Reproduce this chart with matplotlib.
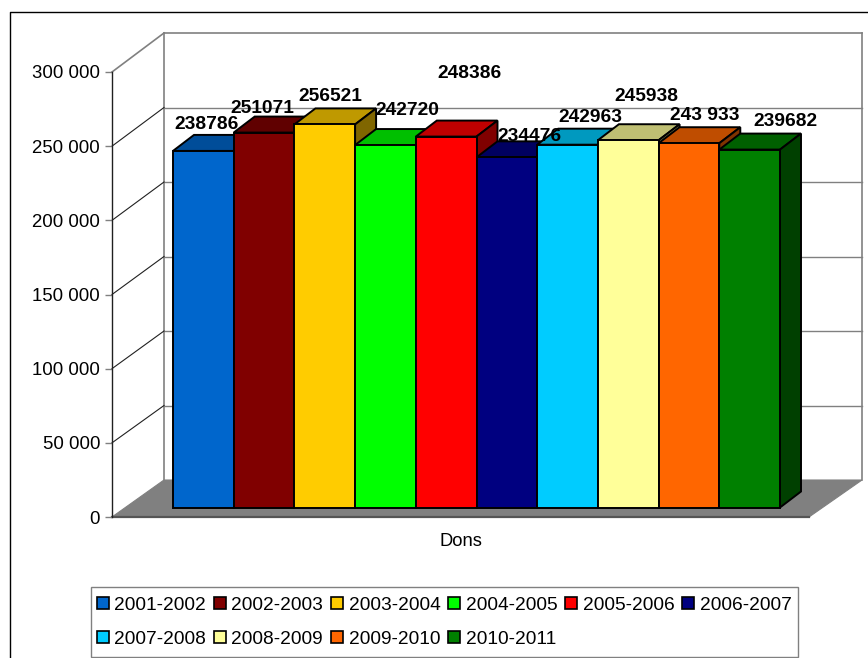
#!/usr/bin/env python3
"""Dons per season, drawn as an Excel-style 3D column chart."""

import matplotlib
matplotlib.use('Agg')
import matplotlib.pyplot as plt
from matplotlib.colors import to_rgb
from matplotlib.patches import Patch, Polygon, Rectangle

plt.rcParams['font.family'] = ['Liberation Sans', 'DejaVu Sans']

# data
seasons = ['2001-2002', '2002-2003', '2003-2004', '2004-2005', '2005-2006',
           '2006-2007', '2007-2008', '2008-2009', '2009-2010', '2010-2011']
dons = [238786, 251071, 256521, 242720, 248386,
        234476, 242963, 245938, 243933, 239682]
value_labels = ['238786', '251071', '256521', '242720', '248386',
                '234476', '242963', '245938', '243 933', '239682']
y_ticks = [0, 50000, 100000, 150000, 200000, 250000, 300000]
y_tick_labels = ['0', '50 000', '100 000', '150 000', '200 000', '250 000', '300 000']

# style
colors = ['#0066CC', '#800000', '#FFCC00', '#00FF00', '#FF0000',
          '#000080', '#00CCFF', '#FFFF99', '#FF6600', '#008000']
label_offsets = [(3, 26), (-2, 24), (6, 28), (22, 35), (23, 63),
                 (23, 21), (23, 27), (18, 44), (16, 28), (36, 28)]

W, H = 868, 658
FS = 13.4
FS_BIG = 13.8
GREY = '#808080'

# pixel layout of the 3D box
BAR_X0, BAR_W, BAR_Y0, BAR_SCALE = 173, 60.7, 507.5, 448 / 300000
DEPTH_X, DEPTH_Y = 21, 16
AX_X, AX_Y0, AX_Y1 = 112, 517, 72
WALL_X0, WALL_X1, WALL_Y0, WALL_Y1 = 164, 862, 480, 33
FLOOR_RIGHT = 809


def shade(color, factor):
    return tuple(c * factor for c in to_rgb(color))


fig = plt.figure(figsize=(W / 100, H / 100), dpi=100, facecolor='white')

# ----- walls, floor and outer frame, in pixels -----
bg = fig.add_axes([0, 0, 1, 1])
bg.set_xlim(0, W)
bg.set_ylim(H, 0)
bg.axis('off')

bg.plot([9.5, 9.5, W], [H, 12, 12], color='black', lw=1.0)
bg.add_patch(Polygon([(AX_X, AX_Y0), (WALL_X0, WALL_Y0), (WALL_X1, WALL_Y0), (FLOOR_RIGHT, AX_Y0)],
                     closed=True, facecolor=GREY, edgecolor=GREY, lw=0.8))
bg.plot([AX_X, FLOOR_RIGHT], [AX_Y0, AX_Y0], color='#555555', lw=1.6)
bg.plot([WALL_X0, WALL_X0], [WALL_Y0, WALL_Y1], color=GREY, lw=1.2)
bg.plot([WALL_X1, WALL_X1], [WALL_Y0, WALL_Y1], color=GREY, lw=1.2)
bg.add_patch(Rectangle((90.5, 587), 707, 70, facecolor='white', edgecolor=GREY, lw=1.0))

for v in y_ticks[1:]:
    wall_y = WALL_Y0 + (WALL_Y1 - WALL_Y0) * v / 300000
    axis_y = AX_Y0 + (AX_Y1 - AX_Y0) * v / 300000
    c = GREY if v == 300000 else '#202020'
    bg.plot([WALL_X0, WALL_X1], [wall_y, wall_y], color=GREY, lw=1.2 if v == 300000 else 1.0)
    bg.plot([AX_X, WALL_X0], [axis_y, wall_y], color=c, lw=1.2 if v == 300000 else 0.8)

# ----- value axis -----
ay = fig.add_axes([AX_X / W, 1 - AX_Y0 / H, 0.02, (AX_Y0 - AX_Y1) / H])
ay.patch.set_alpha(0)
ay.set_ylim(0, 300000)
ay.set_xticks([])
ay.set_yticks(y_ticks)
ay.set_yticklabels(y_tick_labels, fontsize=FS)
ay.tick_params(axis='y', length=5, width=1, color=GREY, pad=3.5)
for name in ['top', 'right', 'bottom']:
    ay.spines[name].set_visible(False)
ay.spines['left'].set_color('#202020')
ay.spines['left'].set_linewidth(1.0)

# ----- columns -----
ax = fig.add_axes([0, 0, 1, 1])
ax.patch.set_alpha(0)
ax.set_xlim(-BAR_X0 / BAR_W, (W - BAR_X0) / BAR_W)
ax.set_ylim((BAR_Y0 - H) / BAR_SCALE, BAR_Y0 / BAR_SCALE)
ax.axis('off')

dx = DEPTH_X / BAR_W
dy = DEPTH_Y / BAR_SCALE
edge = dict(edgecolor='black', linewidth=1.4, joinstyle='miter')

for i, (v, c) in enumerate(zip(dons, colors)):
    z = 10 + i
    ax.add_patch(Polygon([(i, v), (i + 1, v), (i + 1 + dx, v + dy), (i + dx, v + dy)],
                         closed=True, facecolor=shade(c, 0.75), zorder=z, **edge))
    ax.add_patch(Polygon([(i + 1, 0), (i + 1, v), (i + 1 + dx, v + dy), (i + 1 + dx, dy)],
                         closed=True, facecolor=shade(c, 0.5), zorder=z, **edge))
    ax.bar(i, v, width=1, align='edge', color=c, zorder=z, **edge)

for i, (v, lab, off) in enumerate(zip(dons, value_labels, label_offsets)):
    ax.annotate(lab, (i + 0.5, v), xytext=off, textcoords='offset pixels',
                ha='center', va='center', fontsize=FS_BIG, fontweight='bold', zorder=50)

fig.text(461 / W, 1 - 542 / H, 'Dons', ha='center', va='center', fontsize=13.2)

# ----- legend: filled column-wise, so reorder to read row by row -----
order = [0, 6, 1, 7, 2, 8, 3, 9, 4, 5]
handles = [Patch(facecolor=colors[k], edgecolor='black', linewidth=1.2, label=seasons[k]) for k in order]
fig.legend(handles=handles, ncol=6, loc='upper left',
           bbox_to_anchor=(97 / W, 1 - 596.6 / H), borderaxespad=0,
           fontsize=FS_BIG, frameon=False, handlelength=0.6, handleheight=0.6,
           handletextpad=0.3, columnspacing=0.42, labelspacing=0.9,
           borderpad=0)

fig.savefig('out.png', dpi=100)
